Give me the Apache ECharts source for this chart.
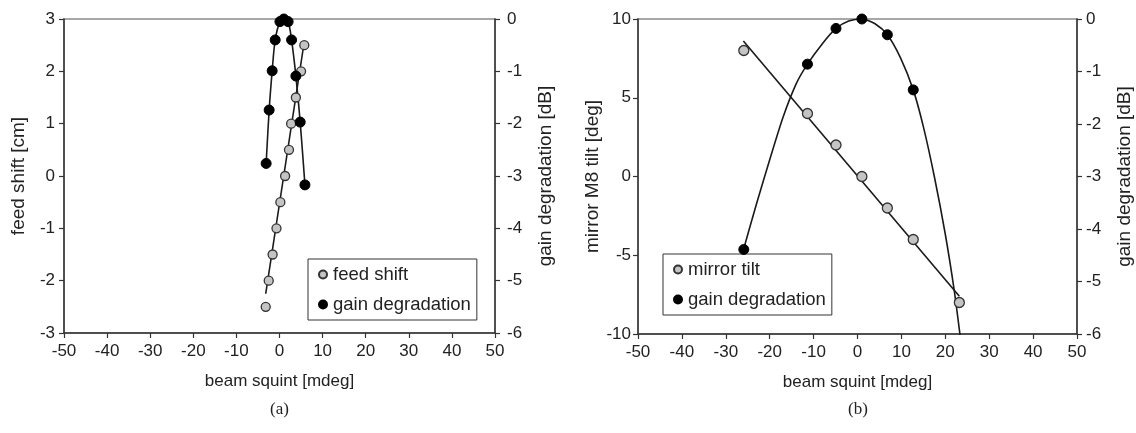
<!DOCTYPE html>
<html>
<head>
<meta charset="utf-8">
<script src="https://cdn.jsdelivr.net/npm/echarts@6/dist/echarts.min.js"></script>
<style>
html,body{margin:0;padding:0;background:#fff;}
#c{width:1136px;height:433px;}
</style>
</head>
<body>
<div id="c"></div>
<script>
// ---- panel (a) ----
const feedShiftX = [-3.2, -2.5, -1.6, -0.7, 0.2, 1.3, 2.2, 2.7, 3.8, 5.0, 5.75];
const feedShiftY = [-2.5, -2, -1.5, -1, -0.5, 0, 0.5, 1, 1.5, 2, 2.5];
const feedTrendX = [-3.2, 5.75];
const feedTrendY = [-2.25, 2.57];
const gainAX = [-3.1, -2.4, -1.7, -1.0, 0.1, 1.0, 2.0, 2.8, 3.8, 4.8, 5.9];
const gainAY = [-2.76, -1.74, -0.99, -0.40, -0.05, 0, -0.05, -0.40, -1.09, -1.97, -3.17];
// ---- panel (b) ----
const mirrorX = [-25.9, -11.4, -4.9, 1.0, 6.8, 12.7, 23.2];
const mirrorY = [8, 4, 2, 0, -2, -4, -8];
const mirrorTrendX = [-26.0, 23.2];
const mirrorTrendY = [8.6, -7.6];
const gainBX = [-25.9, -11.4, -4.9, 1.0, 6.8, 12.7];
const gainBY = [-4.39, -0.86, -0.18, 0, -0.30, -1.35];
const gainFitX = [-26, -23, -20, -17, -14, -11.4, -8, -4.9, -2, 1, 4, 6.8, 9.8, 12.7, 15, 17.5, 20, 22, 23.4];
const gainFitY = [-4.40, -3.52, -2.68, -1.88, -1.24, -0.86, -0.47, -0.18, -0.04, 0, -0.09, -0.30, -0.74, -1.35, -2.05, -3.0, -4.1, -5.15, -6.05];
// ---- labels ----
const xName = 'beam squint [mdeg]';
const yNameA = 'feed shift [cm]';
const yNameB = 'mirror M8 tilt [deg]';
const y2Name = 'gain degradation [dB]';
const panelLabels = ['(a)', '(b)'];

const pairs = (xs, ys) => xs.map((x, i) => [x, ys[i]]);
const FONT = 'Liberation Sans, Arial, sans-serif';
const TXT = '#222';
const AX = '#333';

function xAxis(gi) {
  return {
    type: 'value', gridIndex: gi, min: -50, max: 50, interval: 10,
    name: xName, nameLocation: 'middle', nameGap: 40,
    nameTextStyle: { fontFamily: FONT, fontSize: 17, color: TXT },
    axisLine: { show: true, onZero: false, lineStyle: { color: AX, width: 1.5 } },
    axisTick: { show: true, inside: false, length: 5, lineStyle: { color: AX, width: 1.2 } },
    axisLabel: { fontFamily: FONT, fontSize: 17, color: TXT, margin: 10 },
    splitLine: { show: false }
  };
}
function yAxis(gi, min, max, interval, name, pos, nameGap, margin) {
  return {
    type: 'value', gridIndex: gi, min: min, max: max, interval: interval,
    position: pos, name: name, nameLocation: 'middle', nameGap: nameGap,
    nameRotate: 90,
    nameTextStyle: { fontFamily: FONT, fontSize: 19, color: TXT },
    axisLine: { show: true, onZero: false, lineStyle: { color: AX, width: 1.5 } },
    axisTick: { show: true, inside: false, length: 5, lineStyle: { color: AX, width: 1.2 } },
    axisLabel: { fontFamily: FONT, fontSize: 17, color: TXT, margin: margin },
    splitLine: { show: false }
  };
}
const greyMark = { color: '#c4c4c4', borderColor: '#333', borderWidth: 1.3, opacity: 1 };
const blackMark = { color: '#000', borderColor: '#000', borderWidth: 1, opacity: 1 };
const lineStyle = { color: '#1a1a1a', width: 1.6 };
function legend(names, left, top) {
  return {
    data: names, left: left, top: top, orient: 'vertical', itemGap: 11,
    itemWidth: 8, itemHeight: 8, icon: 'circle',
    padding: [6, 6, 6, 10], borderColor: '#333', borderWidth: 1,
    backgroundColor: '#fff',
    textStyle: { fontFamily: FONT, fontSize: 18.5, color: TXT, padding: [0, 0, 0, 1] },
    selectedMode: false
  };
}

const chart = echarts.init(document.getElementById('c'), null, { renderer: 'canvas' });
chart.setOption({
  backgroundColor: '#fff',
  animation: false,
  grid: [
    { left: 64, right: 641, top: 19, bottom: 100, show: true, borderColor: '#8a8a8a', borderWidth: 1.5, backgroundColor: 'transparent' },
    { left: 638, right: 59, top: 19, bottom: 99, show: true, borderColor: '#8a8a8a', borderWidth: 1.5, backgroundColor: 'transparent' }
  ],
  xAxis: [xAxis(0), xAxis(1)],
  yAxis: [
    yAxis(0, -3, 3, 1, yNameA, 'left', 36, 9),
    yAxis(0, -6, 0, 1, y2Name, 'right', 41, 12),
    yAxis(1, -10, 10, 5, yNameB, 'left', 29, 7),
    yAxis(1, -6, 0, 1, y2Name, 'right', 38, 9)
  ],
  legend: [
    legend(['feed shift', 'gain degradation'], 308, 259),
    legend(['mirror tilt', 'gain degradation'], 663, 254)
  ],
  graphic: [
    { type: 'text', left: 270, top: 401, style: { text: panelLabels[0], font: '17px "Liberation Serif", "Times New Roman", serif', fill: TXT } },
    { type: 'text', left: 848, top: 401, style: { text: panelLabels[1], font: '17px "Liberation Serif", "Times New Roman", serif', fill: TXT } }
  ],
  series: [
    { type: 'line', name: 'fs trend', xAxisIndex: 0, yAxisIndex: 0, data: pairs(feedTrendX, feedTrendY), showSymbol: false, symbol: 'none', lineStyle: lineStyle, z: 2 },
    { type: 'line', name: 'ga line', xAxisIndex: 0, yAxisIndex: 1, data: pairs(gainAX, gainAY), smooth: 0.3, showSymbol: false, symbol: 'none', lineStyle: lineStyle, z: 2 },
    { type: 'scatter', name: 'feed shift', xAxisIndex: 0, yAxisIndex: 0, data: pairs(feedShiftX, feedShiftY), symbol: 'circle', symbolSize: 9, itemStyle: greyMark, z: 3 },
    { type: 'scatter', name: 'gain degradation', xAxisIndex: 0, yAxisIndex: 1, data: pairs(gainAX, gainAY), symbol: 'circle', symbolSize: 10, itemStyle: blackMark, z: 4 },

    { type: 'line', name: 'mt trend', xAxisIndex: 1, yAxisIndex: 2, data: pairs(mirrorTrendX, mirrorTrendY), showSymbol: false, symbol: 'none', lineStyle: lineStyle, z: 2 },
    { type: 'line', name: 'gb fit', xAxisIndex: 1, yAxisIndex: 3, data: pairs(gainFitX, gainFitY), smooth: 0.25, showSymbol: false, symbol: 'none', lineStyle: lineStyle, z: 2 },
    { type: 'scatter', name: 'mirror tilt', xAxisIndex: 1, yAxisIndex: 2, data: pairs(mirrorX, mirrorY), symbol: 'circle', symbolSize: 10, itemStyle: greyMark, z: 3 },
    { type: 'scatter', name: 'gain degradation', xAxisIndex: 1, yAxisIndex: 3, data: pairs(gainBX, gainBY), symbol: 'circle', symbolSize: 10, itemStyle: blackMark, z: 4 }
  ]
});
</script>
</body>
</html>
